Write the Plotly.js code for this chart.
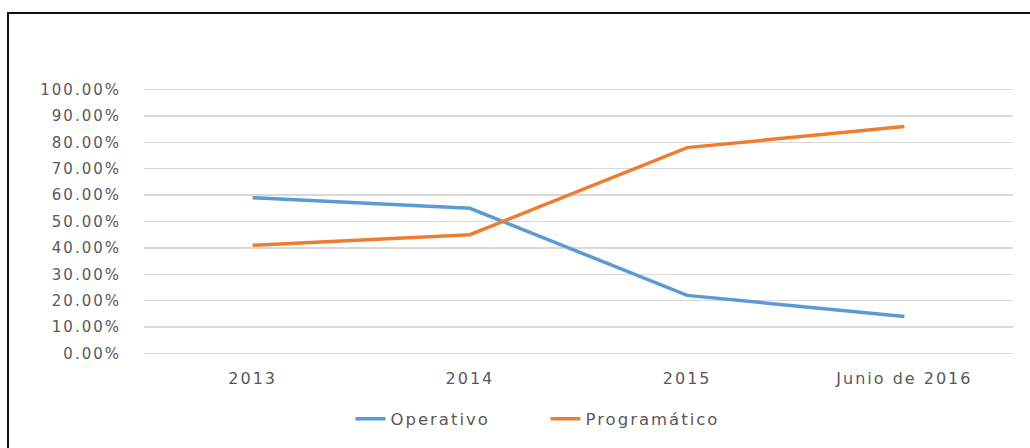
<!DOCTYPE html>
<html>
<head>
<meta charset="utf-8">
<script src="https://cdn.plot.ly/plotly-3.0.1.min.js"></script>
<style>
  html, body { margin:0; padding:0; background:#fff; }
  #wrap { position:relative; width:1030px; height:448px; overflow:hidden; }
  #chart { position:absolute; left:0; top:0; width:1030px; height:448px; }
  #frame { position:absolute; left:7px; top:12px; width:1100px; height:500px;
           border-top:2px solid #111; border-left:2px solid #111; pointer-events:none; }
  .xtick text, .ytick text { letter-spacing: 2px; }
  .legendtext { letter-spacing: 2px; }
</style>
</head>
<body>
<div id="wrap">
  <div id="chart"></div>
  <div id="frame"></div>
</div>
<script>
const categories = ["2013", "2014", "2015", "Junio de 2016"];
const operativo = [0.59, 0.55, 0.22, 0.14];
const programatico = [0.41, 0.45, 0.78, 0.86];

const traces = [
  { type:'scatter', mode:'lines', name:'Operativo', x:categories, y:operativo,
    line:{ color:'#5B9BD5', width:3.5 } },
  { type:'scatter', mode:'lines', name:'Programático', x:categories, y:programatico,
    line:{ color:'#ED7D31', width:3.5 } }
];

const layout = {
  width:1030, height:448,
  margin:{ l:144, r:17, t:88, b:88 },
  paper_bgcolor:'#ffffff', plot_bgcolor:'#ffffff',
  font:{ family:'DejaVu Sans, sans-serif', color:'#595959', size:15 },
  showlegend:true,
  legend:{ orientation:'h', x:0.462, xanchor:'center', y:-0.24, yanchor:'middle',
           font:{ size:16.5, color:'#595959' }, entrywidth:150, tracegroupgap:0 },
  xaxis:{ type:'category', range:[-0.5, 3.5], showgrid:false, zeroline:false, showline:false,
          ticks:'', ticklabelstandoff:12, tickfont:{ size:16, color:'#595959' } },
  yaxis:{ range:[-0.006, 1.006], dtick:0.1, tick0:0, tickformat:'.2%', showgrid:true,
          gridcolor:'#D9D9D9', gridwidth:1.5, zeroline:false, showline:false,
          ticks:'', ticklabelstandoff:22, tickfont:{ size:15, color:'#595959' } },
  hovermode:false
};

Plotly.newPlot('chart', traces, layout, { displayModeBar:false, staticPlot:true });
</script>
</body>
</html>
